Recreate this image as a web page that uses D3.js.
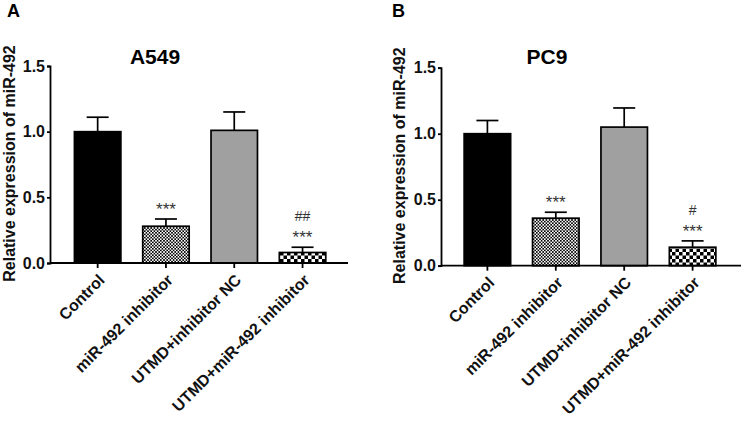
<!DOCTYPE html>
<html><head><meta charset="utf-8">
<script src="https://cdn.jsdelivr.net/npm/d3@7"></script>
<style>body{margin:0;background:#fff}svg{display:block}text{font-family:Arial,"Liberation Sans",sans-serif;}</style>
</head><body>
<svg id="c" width="742" height="421"></svg>
<script>
const categories = ["Control","miR-492 inhibitor","UTMD+inhibitor NC","UTMD+miR-492 inhibitor"];
const yTicks = [0.0, 0.5, 1.0, 1.5];
const panelLetters = ["A","B"];
const panelTitles = ["A549","PC9"];
const meanA549 = [1.00, 0.28, 1.01, 0.08];
const errA549 = [0.11, 0.055, 0.14, 0.04];
const meanPC9 = [1.00, 0.36, 1.05, 0.14];
const errPC9 = [0.10, 0.045, 0.145, 0.048];
const sigA549 = [[],["***"],[],["##","***"]];
const sigPC9 = [[],["***"],[],["#","***"]];
const yLabel = "Relative expression of miR-492";

const svg = d3.select("#c");
const defs = svg.append("defs");
const p1 = defs.append("pattern").attr("id","fine").attr("patternUnits","userSpaceOnUse")
  .attr("width",3.2).attr("height",3.2);
p1.append("rect").attr("width",3.2).attr("height",3.2).attr("fill","#fff");
p1.append("rect").attr("width",1.6).attr("height",1.6).attr("fill","#000");
p1.append("rect").attr("x",1.6).attr("y",1.6).attr("width",1.6).attr("height",1.6).attr("fill","#000");
const p2 = defs.append("pattern").attr("id","coarse").attr("patternUnits","userSpaceOnUse")
  .attr("width",7).attr("height",7);
p2.append("rect").attr("width",7).attr("height",7).attr("fill","#fff");
p2.append("rect").attr("width",3.5).attr("height",3.5).attr("fill","#000");
p2.append("rect").attr("x",3.5).attr("y",3.5).attr("width",3.5).attr("height",3.5).attr("fill","#000");
const fills = ["#000","url(#fine)","#a0a0a0","url(#coarse)"];

const panels = [
  {axisX:50, axisEnd:348, yTop:66, y0:263, xr:[63.5,336.7], means:meanA549, errs:errA549, sig:sigA549, titleX:155, letterX:7, labelX:15},
  {axisX:441, axisEnd:741, yTop:67.7, y0:265.7, xr:[453.2,726.8], means:meanPC9, errs:errPC9, sig:sigPC9, titleX:547, letterX:392, labelX:405}
];

panels.forEach((p,pi)=>{
  const g = svg.append("g");
  const y = d3.scaleLinear().domain([0,1.5]).range([p.y0,p.yTop]);
  const x = d3.scaleBand().domain(categories).range(p.xr).paddingInner(0.32).paddingOuter(0.16);

  g.selectAll("rect.bar").data(categories).enter().append("rect")
    .attr("x",d=>x(d)).attr("width",x.bandwidth())
    .attr("y",(d,i)=>y(p.means[i])).attr("height",(d,i)=>y(0)-y(p.means[i]))
    .attr("fill",(d,i)=>fills[i]).attr("stroke","#000").attr("stroke-width",1.7);

  categories.forEach((c,i)=>{
    const cx = x(c)+x.bandwidth()/2;
    const top = y(p.means[i]+p.errs[i]);
    g.append("line").attr("x1",cx).attr("x2",cx).attr("y1",y(p.means[i])).attr("y2",top)
      .attr("stroke","#000").attr("stroke-width",1.7);
    g.append("line").attr("x1",cx-11).attr("x2",cx+11).attr("y1",top).attr("y2",top)
      .attr("stroke","#000").attr("stroke-width",1.7);
    const s = p.sig[i];
    s.slice().reverse().forEach((t,k)=>{
      const isHash = t.startsWith("#");
      const center = top - 14 - k*17;
      g.append("text").attr("x",cx).attr("y",center + (isHash?4.8:9.8))
        .attr("text-anchor","middle").attr("font-size",isHash?14:17).attr("fill","#333").text(t);
    });
  });

  const ya = d3.axisLeft(y).tickValues(yTicks).tickFormat(d3.format(".1f")).tickSizeOuter(0).tickSize(3).tickPadding(2);
  const yg = g.append("g").attr("transform",`translate(${p.axisX},0)`).call(ya);
  yg.select(".domain").attr("stroke","#000").attr("stroke-width",1.8);
  yg.selectAll(".tick line").attr("stroke","#000").attr("stroke-width",1.8);
  yg.selectAll(".tick text").attr("font-size",16).attr("font-weight","bold").attr("fill","#111");

  const xa = d3.axisBottom(x).tickSize(5).tickSizeOuter(0);
  const xg = g.append("g").attr("transform",`translate(0,${p.y0})`).call(xa);
  xg.select(".domain").attr("d",`M${p.axisX},0H${p.axisEnd}`).attr("stroke","#000").attr("stroke-width",1.8);
  xg.selectAll(".tick line").attr("stroke","#000").attr("stroke-width",1.8);
  xg.selectAll(".tick text").attr("font-size",16).attr("font-weight","bold").attr("fill","#111")
    .attr("text-anchor","end").attr("dy",null).attr("y",0)
    .attr("transform","translate(8,18) rotate(-45)");

  g.append("text").attr("x",p.titleX).attr("y",64).attr("text-anchor","middle")
    .attr("font-size",21).attr("font-weight","bold").text(panelTitles[pi]);
  g.append("text").attr("x",p.letterX).attr("y",17).attr("font-size",18).attr("font-weight","bold").text(panelLetters[pi]);
  g.append("text").attr("transform",`translate(${p.labelX},${(p.yTop+p.y0)/2-1}) rotate(-90)`)
    .attr("text-anchor","middle").attr("font-size",16).attr("font-weight","bold").attr("fill","#111").text(yLabel);
});
</script>
</body></html>
